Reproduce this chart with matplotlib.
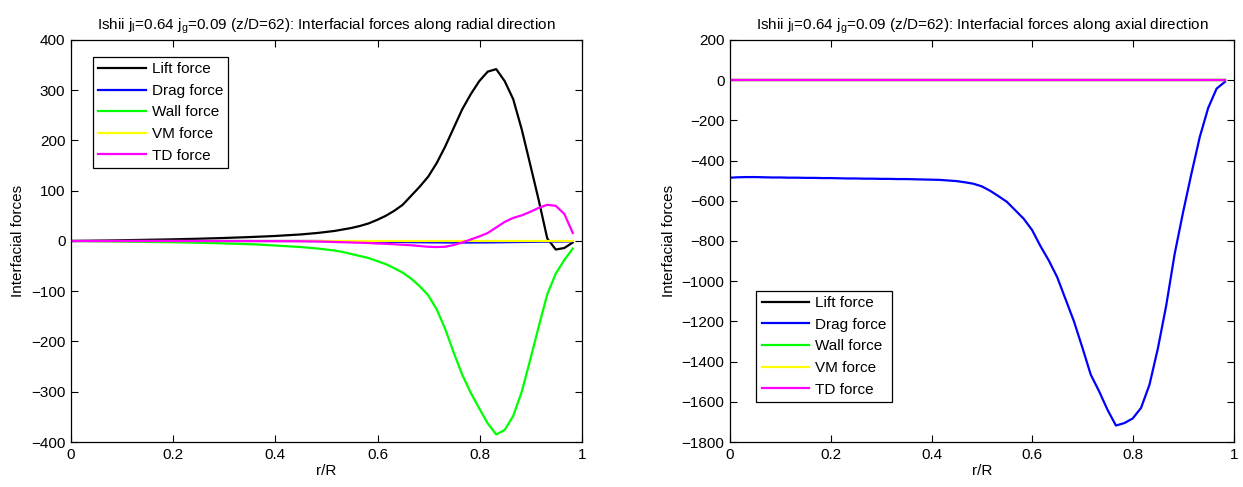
import matplotlib
matplotlib.use('Agg')
from matplotlib import pyplot as plt
import numpy as np

plt.rcParams['font.family'] = ['Liberation Sans', 'DejaVu Sans']
plt.rcParams['font.size'] = 11

# radial positions of the CFD cells (uniform, centre to near wall)
r = np.linspace(0, 0.982, 60)

# radial direction
lift_rad = [0, 0.2, 0.4, 0.7, 0.9, 1.2, 1.5, 1.8, 2.1, 2.4,
            2.7, 3.0, 3.3, 3.7, 4.1, 4.5, 5.0, 5.5, 6.0, 6.6,
            7.2, 7.8, 8.5, 9.2, 10.0, 11.0, 12.0, 13.0, 14.5, 16.0,
            18, 20, 23, 26, 30, 35, 42, 50, 60, 72,
            90, 108, 128, 155, 188, 225, 262, 292, 318, 337,
            342, 318, 282, 222, 152, 81, 5, -17, -14, -3]
drag_rad = [0] * 30 + [-0.3, -0.5, -0.7, -0.9, -1.1, -1.3, -1.5, -1.7, -1.9, -2.1,
                       -2.3, -2.5, -2.7, -2.8, -2.9, -3.0, -3.0, -3.0, -2.9, -2.8,
                       -2.6, -2.4, -2.2, -2.0, -1.8, -1.6, -1.4, -1.2, -1.0, -0.8]
wall_rad = [0, -0.1, -0.3, -0.5, -0.7, -0.9, -1.1, -1.4, -1.6, -1.9,
            -2.1, -2.3, -2.5, -2.8, -3.1, -3.5, -3.9, -4.3, -4.8, -5.3,
            -5.8, -6.4, -7.0, -8.0, -9.0, -10.0, -11.0, -12.0, -13.5, -15.0,
            -17, -19, -22, -26, -30, -34, -40, -46, -54, -63,
            -75, -90, -108, -136, -175, -222, -266, -302, -333, -363,
            -385, -376, -348, -300, -236, -170, -106, -65, -38, -15]
vm_rad = [0] * 60
td_rad = [0, 0, 0, 0, 0, 0, 0, 0, 0, 0,
          0, 0, 0, 0, 0, -0.1, -0.1, -0.1, -0.1, -0.2,
          -0.2, -0.2, -0.3, -0.3, -0.3, -0.4, -0.4, -0.5, -0.8, -1.0,
          -1.5, -2.0, -2.5, -3.0, -3.5, -4.0, -5.0, -5.5, -6.5, -7.5,
          -8.5, -10.0, -11.5, -12.0, -11.5, -8.0, -3.0, 3.0, 9.0, 16.0,
          27, 38, 46, 51, 58, 66, 72, 70, 54, 16]

# axial direction
lift_ax = [0] * 60
drag_ax = [-485, -483, -482, -482, -483, -484, -484, -485, -485, -486,
           -486, -487, -487, -488, -489, -489, -490, -490, -491, -491,
           -492, -492, -493, -494, -495, -496, -499, -502, -508, -515,
           -528, -550, -577, -605, -647, -689, -745, -825, -897, -980,
           -1090, -1200, -1330, -1465, -1548, -1640, -1718, -1706, -1683, -1630,
           -1515, -1335, -1120, -865, -658, -465, -282, -138, -42, -8]
wall_ax = [0] * 60
vm_ax = [0] * 60
td_ax = [0] * 60

labels = ['Lift force', 'Drag force', 'Wall force', 'VM force', 'TD force']
colors = ['#000000', '#0000ff', '#00ff00', '#ffff00', '#ff00ff']

title_base = r'Ishii j$_\mathregular{l}$=0.64 j$_\mathregular{g}$=0.09 (z/D=62): '

fig = plt.figure(figsize=(12.43, 4.87), dpi=100)
ax1 = fig.add_axes([0.0571, 0.0924, 0.4111, 0.8255])
ax2 = fig.add_axes([0.5873, 0.0924, 0.4055, 0.8255])

for ys, lab, c in zip([lift_rad, drag_rad, wall_rad, vm_rad, td_rad], labels, colors):
    ax1.plot(r, ys, color=c, lw=1.6, label=lab)
for ys, lab, c in zip([lift_ax, drag_ax, wall_ax, vm_ax, td_ax], labels, colors):
    ax2.plot(r, ys, color=c, lw=1.6, label=lab)

ax1.set_ylim(-400, 400)
ax1.set_yticks(np.arange(-400, 401, 100))
ax1.set_title(title_base + 'Interfacial forces along radial direction', fontsize=11, pad=8)
ax2.set_ylim(-1800, 200)
ax2.set_yticks(np.arange(-1800, 201, 200))
ax2.set_title(title_base + 'Interfacial forces along axial direction', fontsize=11, pad=8)

for ax in (ax1, ax2):
    ax.set_xlim(0, 1)
    ax.set_xticks([0, 0.2, 0.4, 0.6, 0.8, 1])
    ax.set_xticklabels(['0', '0.2', '0.4', '0.6', '0.8', '1'])
    ax.set_xlabel('r/R', labelpad=2)
    ax.set_ylabel('Interfacial forces', labelpad=4)
    ax.tick_params(direction='in', top=True, right=True, length=5, width=0.8, pad=4)
    for s in ax.spines.values():
        s.set_linewidth(0.9)

leg_style = dict(borderaxespad=0, fancybox=False, framealpha=1, edgecolor='k',
                 handlelength=3.1, handletextpad=0.4, labelspacing=0.5,
                 borderpad=0.35, fontsize=11)
leg1 = ax1.legend(loc='upper left', bbox_to_anchor=(0.043, 0.958), **leg_style)
leg2 = ax2.legend(loc='lower left', bbox_to_anchor=(0.052, 0.0995), **leg_style)
for leg in (leg1, leg2):
    leg.get_frame().set_linewidth(0.9)

fig.savefig('out.png', dpi=100)
